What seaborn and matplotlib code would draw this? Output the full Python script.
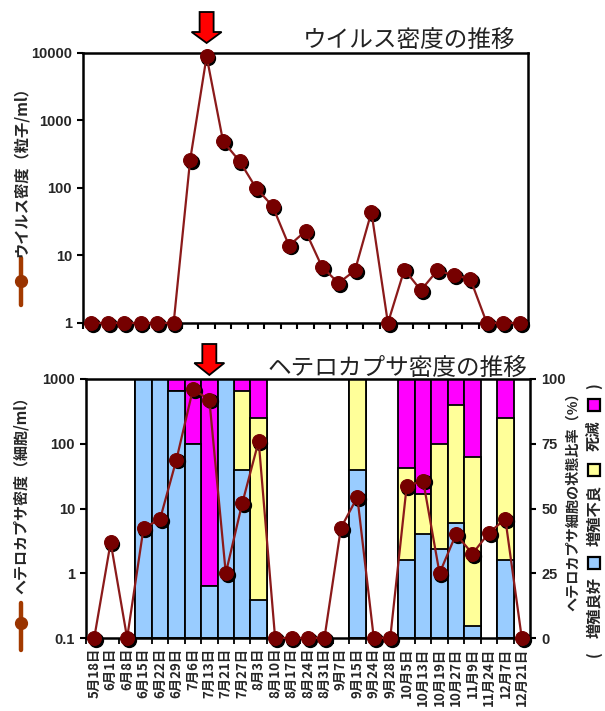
import numpy as np
import pandas as pd
import matplotlib
matplotlib.use("Agg")
import matplotlib.pyplot as plt
from matplotlib.lines import Line2D
from matplotlib.patches import Polygon, Rectangle
from matplotlib.ticker import FixedLocator, FixedFormatter, NullLocator
from matplotlib.transforms import ScaledTranslation
import seaborn as sns

# ---- data -------------------------------------------------------------
dates = ["5月18日", "6月1日", "6月8日", "6月15日", "6月22日", "6月29日",
         "7月6日", "7月13日", "7月21日", "7月27日", "8月3日", "8月10日",
         "8月17日", "8月24日", "8月31日", "9月7日", "9月15日", "9月24日",
         "9月28日", "10月5日", "10月13日", "10月19日", "10月27日", "11月9日",
         "11月24日", "12月7日", "12月21日"]

# virus density (particles/ml)
virus = [1, 1, 1, 1, 1, 1, 260, 8900, 490, 250, 100, 54, 14, 23, 6.8, 3.9,
         6.0, 44, 1, 6.2, 3.05, 6.0, 5.1, 4.5, 1, 1, 1]

# Heterocapsa density (cells/ml)
hetero = [0.1, 3.0, 0.1, 5.0, 6.8, 57, 690, 480, 1.0, 12, 110, 0.1, 0.1,
          0.1, 0.1, 5.0, 15, 0.1, 0.1, 22, 27, 1.0, 4.0, 2.0, 4.2, 6.9, 0.1]

nan = np.nan
# cell condition ratio (%): good growth / poor growth / dead
good = [nan, nan, nan, 100, 100, 95.5, 75, 20, 100, 65, 14.5, nan, nan, nan,
        nan, nan, 65, nan, nan, 30, 40, 34.5, 44.5, 4.5, nan, 30, nan]
poor = [nan, nan, nan, 0, 0, 0, 0, 0, 0, 30.5, 70.5, nan, nan, nan,
        nan, nan, 35, nan, nan, 35.5, 15.5, 40.5, 45.5, 65.5, nan, 55, nan]
dead = [nan, nan, nan, 0, 0, 4.5, 25, 80, 0, 4.5, 15, nan, nan, nan,
        nan, nan, 0, nan, nan, 34.5, 44.5, 25, 10, 30, nan, 15, nan]

virus_ticks = [1, 10, 100, 1000, 10000]
hetero_ticks = [0.1, 1, 10, 100, 1000]
ratio_ticks = [0, 25, 50, 75, 100]

# ---- style ------------------------------------------------------------
sns.set_theme(style="ticks")
plt.rcParams["font.family"] = ["Liberation Sans", "Noto Sans CJK JP"]
JP = ["Noto Sans CJK JP", "DejaVu Sans"]

W, H = 605, 711
fig = plt.figure(figsize=(W / 100, H / 100), dpi=100)


def box(l, t, r, b):
    return [l / W, 1 - b / H, (r - l) / W, (b - t) / H]


LINE_C = "#8b1a1a"
MARK_C = "#760000"
BLUE, YELLOW, MAGENTA = "#99ccff", "#ffff99", "#ff00ff"
n = len(dates)
idx = np.arange(n)


def style_spines(ax):
    for s in ax.spines.values():
        s.set_visible(True)
        s.set_color("black")
        s.set_linewidth(1.8)


def density_line(ax, y):
    sns.lineplot(x=idx, y=y, ax=ax, color=LINE_C, linewidth=1.6,
                 marker="o", markersize=10, markerfacecolor=MARK_C,
                 markeredgecolor=MARK_C, clip_on=False, zorder=4)
    ln = ax.lines[-1]
    shift = ax.transData + ScaledTranslation(1.3 / 72, -1.3 / 72,
                                             fig.dpi_scale_trans)
    ax.plot(ln.get_xdata(), ln.get_ydata(), ls="none", marker="o",
            markersize=10, color="black", transform=shift,
            clip_on=False, zorder=3.9)


def down_arrow(ax, xi, tip_gap, height, head_len):
    fig.canvas.draw()
    x0 = ax.transData.transform((xi, 1))[0]
    ytop = ax.transAxes.transform((0, 1))[1]
    tip = ytop + tip_gap
    top = tip + height
    base = tip + head_len
    pts = [(x0 - 7, top), (x0 + 7, top), (x0 + 7, base), (x0 + 15, base),
           (x0, tip), (x0 - 15, base), (x0 - 7, base)]
    pts = fig.transFigure.inverted().transform(pts)
    fig.add_artist(Polygon(pts, closed=True, facecolor="#ff0000",
                           edgecolor="black", linewidth=1.3,
                           transform=fig.transFigure))


def vtext(xp, yp, s, size, **kw):
    fig.text(xp / W, 1 - yp / H, s, family=JP, fontsize=size,
             fontweight="bold", rotation=90, rotation_mode="anchor",
             ha="center", va="center", **kw)


# ---- top: virus density ----------------------------------------------
axt = fig.add_axes(box(83, 53, 528, 323))
density_line(axt, virus)
axt.set_yscale("log")
axt.set_ylim(1, 10000)
axt.set_xlim(-0.5, n - 0.5)
axt.yaxis.set_major_locator(FixedLocator(virus_ticks))
axt.yaxis.set_major_formatter(FixedFormatter([str(v) for v in virus_ticks]))
axt.yaxis.set_minor_locator(NullLocator())
axt.set_xticks(np.arange(-0.5, n, 1.0))
axt.set_xticklabels([])
axt.tick_params(axis="both", direction="out", length=4.5, width=1.5,
                color="black")
axt.tick_params(axis="y", labelsize=10.5, pad=3.5)
for lab in axt.get_yticklabels():
    lab.set_fontweight("bold")
style_spines(axt)
axt.set_xlabel("")
axt.set_ylabel("")

# ---- bottom: Heterocapsa density + cell condition --------------------
axb = fig.add_axes(box(86, 379, 530, 638))
df = pd.DataFrame({"date": dates,
                   "good": good,
                   "good_poor": np.array(good) + np.array(poor),
                   "total": np.array(good) + np.array(poor) + np.array(dead)})
for col, c in [("total", MAGENTA), ("good_poor", YELLOW), ("good", BLUE)]:
    sns.barplot(data=df, x="date", y=col, order=dates, color=c,
                saturation=1, width=1, edgecolor="black", linewidth=1.3,
                errorbar=None, ax=axb)
axb.set_ylim(0, 100)

axl = axb.twinx()
density_line(axl, hetero)
axl.set_yscale("log")
axl.set_ylim(0.1, 1000)
axb.set_xlim(-0.5, n - 0.5)

axl.yaxis.tick_left()
axb.yaxis.tick_right()
axl.yaxis.set_major_locator(FixedLocator(hetero_ticks))
axl.yaxis.set_major_formatter(FixedFormatter([str(v) for v in hetero_ticks]))
axl.yaxis.set_minor_locator(NullLocator())
axb.yaxis.set_major_locator(FixedLocator(ratio_ticks))
axb.yaxis.set_major_formatter(FixedFormatter([str(v) for v in ratio_ticks]))

axb.set_xticks(idx)
axb.set_xticklabels(dates, rotation=90, family=JP, fontsize=9.6,
                    fontweight="bold")
axb.set_xticks(np.arange(-0.5, n, 1.0), minor=True)
axb.tick_params(axis="x", which="major", length=0, pad=7)
axb.tick_params(axis="x", which="minor", direction="out", length=4,
                width=1.3, color="black")
for a in (axl, axb):
    a.tick_params(axis="y", direction="out", length=4.5, width=1.5,
                  color="black", labelsize=10.5, pad=3.5)
    for lab in a.get_yticklabels():
        lab.set_fontweight("bold")
style_spines(axb)
for s in axl.spines.values():
    s.set_visible(False)
for a in (axb, axl):
    a.set_xlabel("")
    a.set_ylabel("")

# ---- titles, arrows, axis captions -----------------------------------
fig.text(409 / W, 1 - 40 / H, "ウイルス密度の推移", family=JP, fontsize=17,
         ha="center", va="center", color="#222222")
fig.text(397 / W, 1 - 368 / H, "ヘテロカプサ密度の推移", family=JP,
         fontsize=17, ha="center", va="center", color="#222222")

down_arrow(axt, 7, 10, 31, 11)
down_arrow(axl, 7, 4, 31, 12)

vtext(21, 168, "ウイルス密度（粒子/ml）", 11)
vtext(21, 491, "ヘテロカプサ密度（細胞/ml）", 10.8)
vtext(573, 498, "ヘテロカプサ細胞の状態比率（%）", 10.2)

# line key beside the left captions
for y0, y1, ym in [(258, 305, 281), (603, 650, 623)]:
    fig.add_artist(Line2D([21 / W, 21 / W], [1 - y0 / H, 1 - y1 / H],
                          color="#a33a00", linewidth=3.2,
                          transform=fig.transFigure))
    fig.add_artist(Line2D([21 / W], [1 - ym / H], marker="o",
                          markersize=8.5, color="#993300",
                          transform=fig.transFigure))

# condition key on the right
key_x = 594
for text, yc in [("(", 654), ("増殖良好", 607), ("増殖不良", 516),
                 ("死滅", 436), (")", 386)]:
    vtext(key_x, yc, text, 11)
for c, yc in [(BLUE, 563), (YELLOW, 470), (MAGENTA, 405)]:
    fig.add_artist(Rectangle(((key_x - 6) / W, 1 - (yc + 6) / H), 12 / W,
                             12 / H, facecolor=c, edgecolor="black",
                             linewidth=1.6, transform=fig.transFigure))

fig.savefig("out.png", dpi=100)
